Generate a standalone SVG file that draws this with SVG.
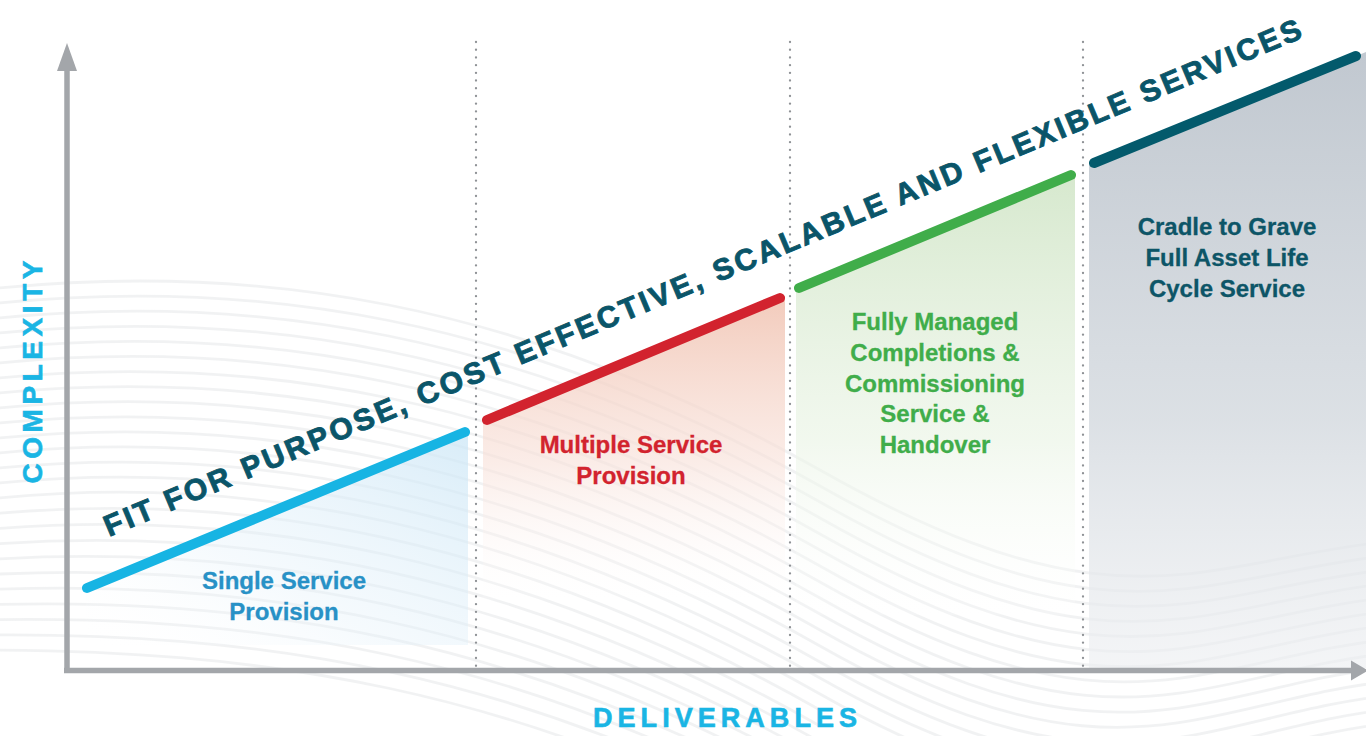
<svg xmlns="http://www.w3.org/2000/svg" width="1366" height="736" viewBox="0 0 1366 736">
<style>
.axis{stroke:#a3a6aa;stroke-width:5.5;fill:none}
.axhead{fill:#a3a6aa}
.dots{stroke:#8f9296;stroke-width:2.3;stroke-linecap:round;stroke-dasharray:0.1 7.6;fill:none}
.seg{stroke-width:10;stroke-linecap:round;fill:none}
.lbl{font-family:"Liberation Sans",Arial,sans-serif;font-weight:700;font-size:24px;text-anchor:middle;stroke-width:0.3}
.ax{font-family:"Liberation Sans",Arial,sans-serif;font-weight:700;fill:#1ab5e4;text-anchor:middle;stroke:#1ab5e4;stroke-width:0.6}
.title{font-family:"Liberation Sans",Arial,sans-serif;font-weight:700;font-size:30px;fill:#0a5569;stroke:#0a5569;stroke-width:0.9}
.wave{stroke:#cfd3d8;stroke-width:2.8;fill:none;opacity:0.3}
</style>
<defs>
<linearGradient id="gBlue" x1="1" y1="0" x2="0" y2="1">
<stop offset="0" stop-color="#cbe6f6" stop-opacity="0.75"/>
<stop offset="0.6" stop-color="#e3f1fa" stop-opacity="0.35"/>
<stop offset="1" stop-color="#ffffff" stop-opacity="0"/>
</linearGradient>
<linearGradient id="gRed" x1="0" y1="0" x2="0" y2="1">
<stop offset="0" stop-color="#f1c5b4" stop-opacity="0.9"/>
<stop offset="0.55" stop-color="#f8e0d8" stop-opacity="0.6"/>
<stop offset="1" stop-color="#ffffff" stop-opacity="0.1"/>
</linearGradient>
<linearGradient id="gGreen" x1="0" y1="0" x2="0" y2="1">
<stop offset="0" stop-color="#d4e7cb" stop-opacity="0.95"/>
<stop offset="0.6" stop-color="#eaf4e5" stop-opacity="0.65"/>
<stop offset="1" stop-color="#ffffff" stop-opacity="0.15"/>
</linearGradient>
<linearGradient id="gGrey" x1="0" y1="0" x2="0" y2="1">
<stop offset="0" stop-color="#c1c8d0"/>
<stop offset="0.6" stop-color="#d8dde2" stop-opacity="0.9"/>
<stop offset="1" stop-color="#eceef1" stop-opacity="0.6"/>
</linearGradient>
</defs>
<rect width="1366" height="736" fill="#ffffff"/>
<g id="background-waves">
<path class="wave" d="M-20 290 C250 260 520 300 820 470 S1200 560 1400 540"/>
<path class="wave" d="M-20 305 C250 275 520 316 820 486 S1200 574 1400 554"/>
<path class="wave" d="M-20 320 C250 290 520 332 820 502 S1200 588 1400 568"/>
<path class="wave" d="M-20 335 C250 305 520 348 820 518 S1200 602 1400 582"/>
<path class="wave" d="M-20 350 C250 320 520 364 820 534 S1200 616 1400 596"/>
<path class="wave" d="M-20 365 C250 335 520 380 820 550 S1200 630 1400 610"/>
<path class="wave" d="M-20 380 C250 350 520 396 820 566 S1200 644 1400 624"/>
<path class="wave" d="M-20 395 C250 365 520 412 820 582 S1200 658 1400 638"/>
<path class="wave" d="M-20 410 C250 380 520 428 820 598 S1200 672 1400 652"/>
<path class="wave" d="M-20 425 C250 395 520 444 820 614 S1200 686 1400 666"/>
<path class="wave" d="M-20 440 C250 410 520 460 820 630 S1200 700 1400 680"/>
<path class="wave" d="M-20 455 C250 425 520 476 820 646 S1200 714 1400 694"/>
<path class="wave" d="M-20 470 C250 440 520 492 820 662 S1200 728 1400 708"/>
<path class="wave" d="M-20 485 C250 455 520 508 820 678 S1200 742 1400 722"/>
<path class="wave" d="M-20 500 C250 470 520 524 820 694 S1200 756 1400 736"/>
<path class="wave" d="M-20 515 C250 488 520 540 820 710"/>
<path class="wave" d="M-20 530 C250 506 520 556 820 726"/>
<path class="wave" d="M-20 545 C250 524 520 572 820 742"/>
<path class="wave" d="M-20 560 C250 542 520 588 820 758"/>
<path class="wave" d="M-20 575 C250 560 520 604 820 774"/>
<path class="wave" d="M-20 590 C250 578 520 620 820 790"/>
<path class="wave" d="M-20 605 C250 596 520 636 820 806"/>
<path class="wave" d="M-20 620 C250 614 520 652 820 822"/>
<path class="wave" d="M-20 635 C250 632 520 668 820 838"/>
<path class="wave" d="M-20 650 C250 650 520 684 820 854"/>
</g>
<g id="dividers">
<line class="dots" x1="476" y1="42" x2="476" y2="668"/>
<line class="dots" x1="790" y1="42" x2="790" y2="668"/>
<line class="dots" x1="1083" y1="42" x2="1083" y2="668"/>
</g>
<g id="stage-single">
<polygon points="86,588 468,431 468,645 86,645" fill="url(#gBlue)"/>
<line class="seg" x1="87" y1="588" x2="465" y2="432" stroke="#17b4e3"/>
<text class="lbl" fill="#2891c6" stroke="#2891c6"><tspan x="284" y="589">Single Service</tspan><tspan x="284" y="620">Provision</tspan></text>
</g>
<g id="stage-multiple">
<polygon points="483,421 785,296 785,600 483,600" fill="url(#gRed)"/>
<line class="seg" x1="487" y1="420" x2="780" y2="298" stroke="#d2232e"/>
<text class="lbl" fill="#d2232e" stroke="#d2232e"><tspan x="631" y="453">Multiple Service</tspan><tspan x="631" y="484">Provision</tspan></text>
</g>
<g id="stage-managed">
<polygon points="796,289 1075,174 1075,615 796,615" fill="url(#gGreen)"/>
<line class="seg" x1="799" y1="288" x2="1071" y2="175" stroke="#40ad4a"/>
<text class="lbl" fill="#40ad4a" stroke="#40ad4a"><tspan x="935" y="330">Fully Managed</tspan><tspan x="935" y="361">Completions &amp;</tspan><tspan x="935" y="392">Commissioning</tspan><tspan x="935" y="422">Service &amp;</tspan><tspan x="935" y="453">Handover</tspan></text>
</g>
<g id="stage-cradle">
<polygon points="1089,165 1366,52 1366,668 1089,668" fill="url(#gGrey)"/>
<line class="seg" x1="1094" y1="163" x2="1356" y2="56" stroke="#035a6c" stroke-width="11"/>
<text class="lbl" fill="#0d5567" stroke="#0d5567"><tspan x="1227" y="235">Cradle to Grave</tspan><tspan x="1227" y="266">Full Asset Life</tspan><tspan x="1227" y="297">Cycle Service</tspan></text>
</g>
<g id="axes">
<line class="axis" x1="67" y1="68" x2="67" y2="672"/>
<polygon class="axhead" points="67,43 77,71 57,71"/>
<line class="axis" x1="64" y1="670.5" x2="1354" y2="670.5" stroke-width="6"/>
<polygon class="axhead" points="1368,670.5 1351,660.5 1351,680.5"/>
<text class="ax" font-size="27" x="725" y="727" textLength="264" lengthAdjust="spacing">DELIVERABLES</text>
<text class="ax" font-size="28" transform="translate(42,372) rotate(-90)" x="0" y="0" textLength="223" lengthAdjust="spacing">COMPLEXITY</text>
</g>
<g id="tagline">
<text class="title" transform="translate(109,537) rotate(-22.7)" x="0" y="0" textLength="1295" lengthAdjust="spacing">FIT FOR PURPOSE, COST EFFECTIVE, SCALABLE AND FLEXIBLE SERVICES</text>
</g>
</svg>
